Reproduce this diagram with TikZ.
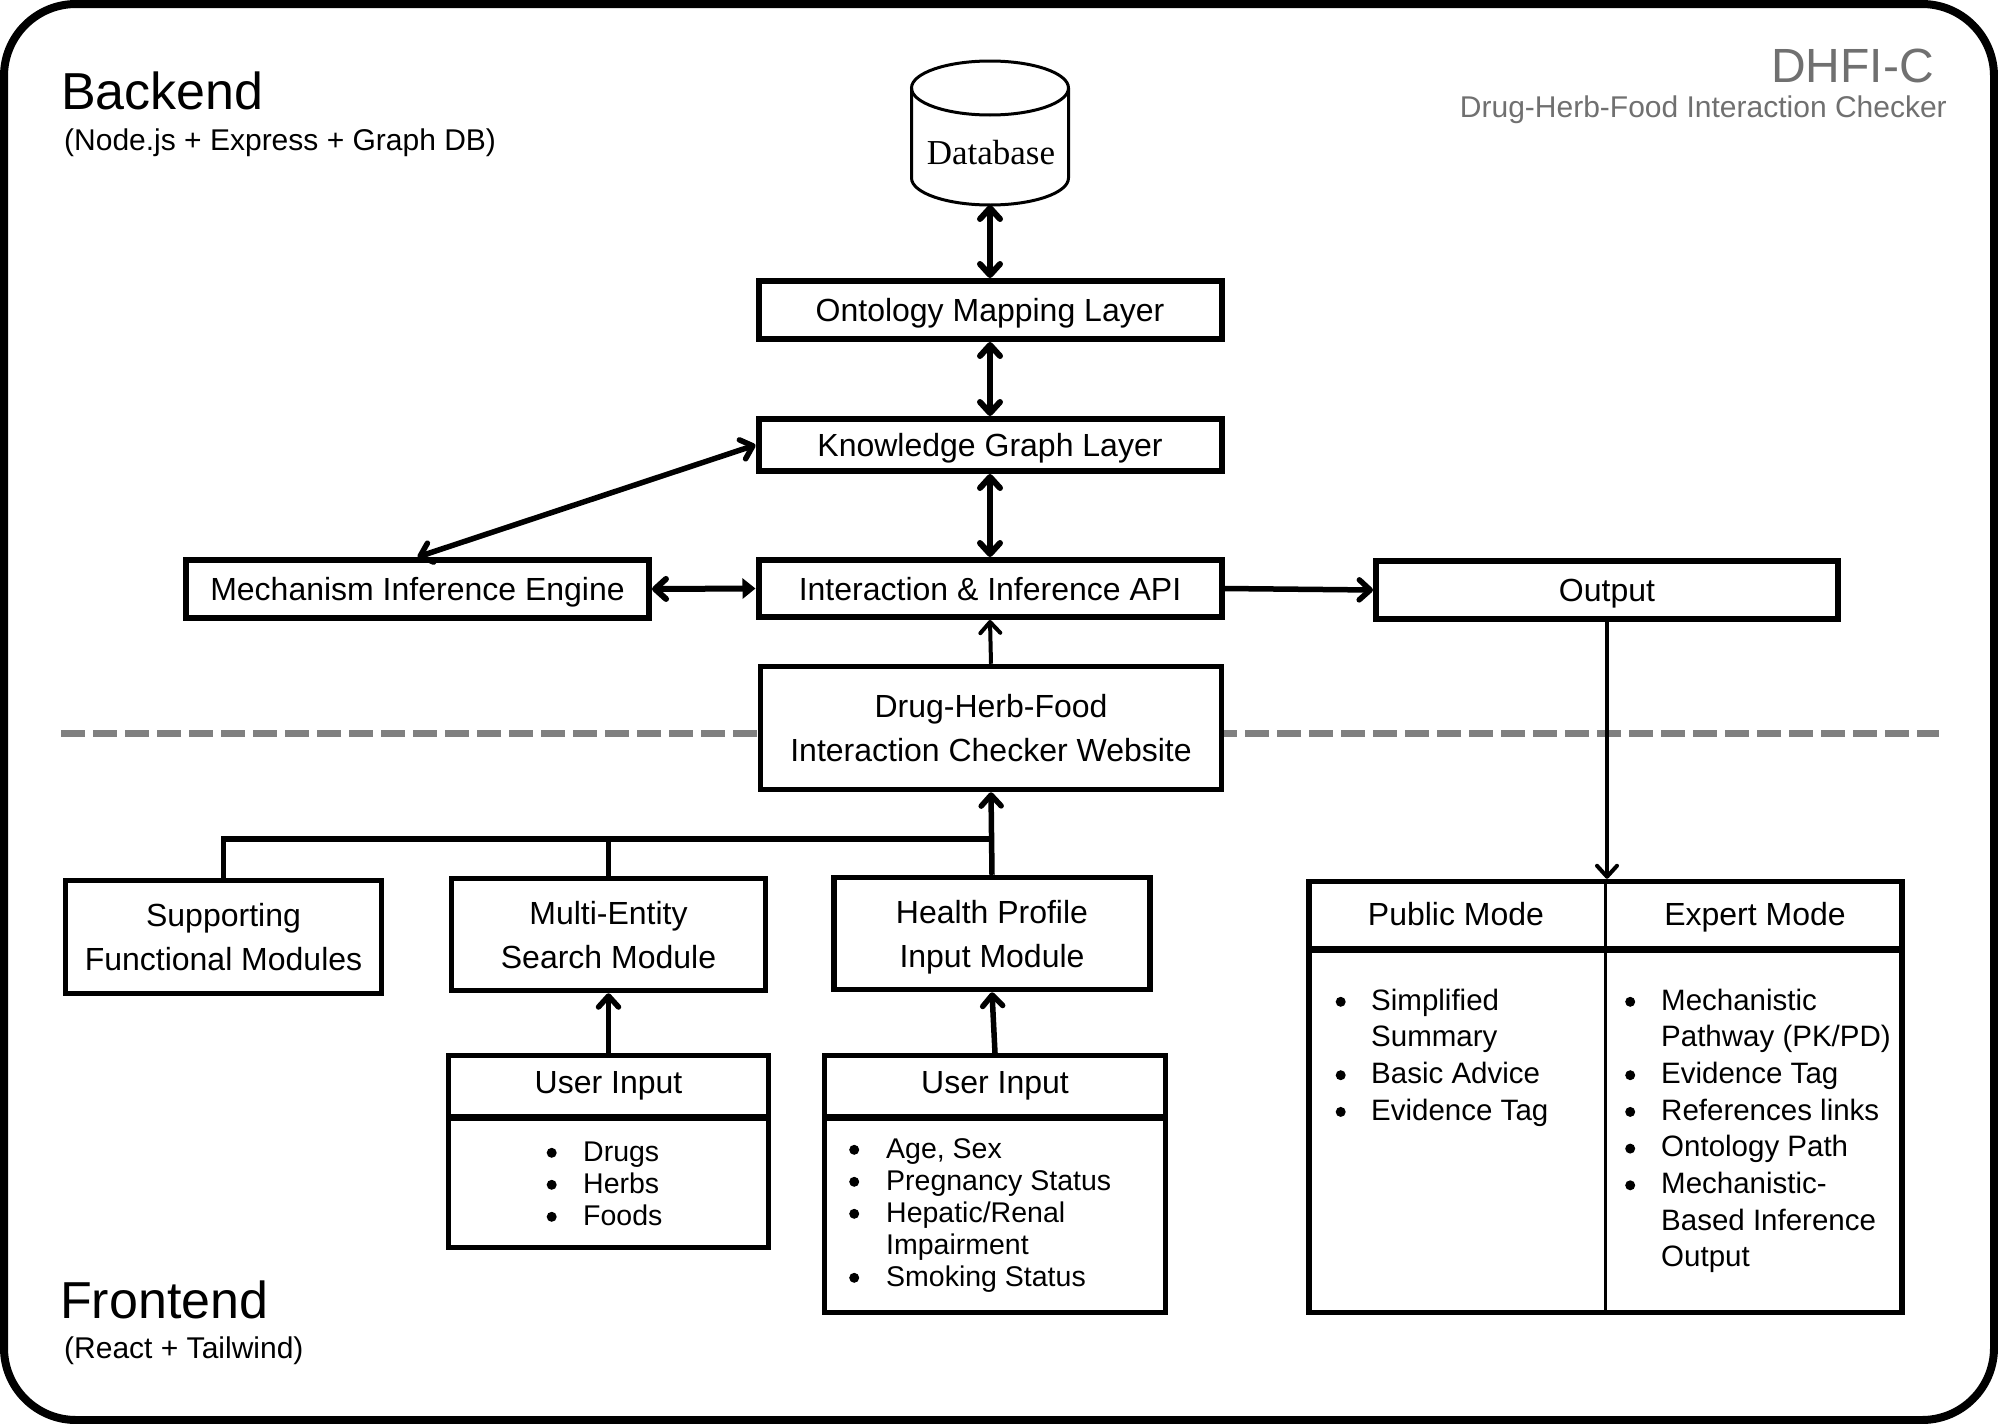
\documentclass[tikz,border=0pt]{standalone}
\usepackage{fontspec}
\setmainfont{Liberation Sans}
\newfontfamily\dbfont{Liberation Serif}
\usetikzlibrary{arrows.meta}
\definecolor{titlegray}{RGB}{112,112,112}
\definecolor{dashgray}{RGB}{128,128,128}
\newcommand\bdot{\raisebox{3.2pt}{\tikz\fill (0,0) circle[radius=5pt];}}
\begin{document}
\begin{tikzpicture}[x=1pt,y=-1pt,
  >={Straight Barb[length=11pt,width=20pt,round]},
  box/.style={draw, line width=6pt, fill=white, inner sep=0pt, font=\fontsize{32}{44}\selectfont},
  onebox/.style={box, text height=23pt, text depth=0pt},
  twobox/.style={box, align=center, text depth=0pt, line width=5.5pt},
  tabbox/.style={box, line width=5pt},
  lnk/.style={line width=6pt},
  midlnk/.style={line width=5.5pt},
  thinlnk/.style={line width=4pt},
  sepline/.style={line width=7pt},
  txt/.style={inner sep=0pt},
  hdr/.style={txt, anchor=base, font=\fontsize{32}{38}\selectfont},
  lst/.style={txt, anchor=base west},
  smalllst/.style={lst, font=\fontsize{28.5}{32}\selectfont},
  biglst/.style={lst, font=\fontsize{29.5}{36.7}\selectfont},
]
\useasboundingbox (0,0) rectangle (1998,1424);
\draw[line width=8pt, rounded corners=72pt] (4,4) rectangle (1994,1420);

% dashed separator
\coordinate (dashL) at (61,733);
\coordinate (dashR) at (1939,733);
\draw[dashgray, line width=7pt, dash pattern=on 24pt off 8pt] (dashL) -- (dashR);

% titles
\node[txt, anchor=base west, font=\fontsize{52}{60}\selectfont] (backend) at (61,109) {Backend};
\node[txt, anchor=base west, font=\fontsize{30}{36}\selectfont] (backsub) at (64,150) {(Node.js + Express + Graph DB)};
\node[txt, anchor=base west, font=\fontsize{52}{60}\selectfont] (frontend) at (60,1318) {Frontend};
\node[txt, anchor=base west, font=\fontsize{30}{36}\selectfont] (frontsub) at (64,1358) {(React + Tailwind)};
\node[txt, anchor=base east, text=titlegray, font=\fontsize{48}{56}\selectfont] (title) at (1934,82) {DHFI-C};
\node[txt, anchor=base east, text=titlegray, font=\fontsize{30}{36}\selectfont] (subtitle) at (1947,117) {Drug-Herb-Food Interaction Checker};

% database cylinder
\node[minimum width=157pt, minimum height=144pt, inner sep=0pt, outer sep=0pt] (db) at (990,133) {};
\fill[white] (911.5,88) -- (911.5,178) arc[start angle=180,end angle=0,x radius=78.5,y radius=27] -- (1068.5,88) arc[start angle=0,end angle=-180,x radius=78.5,y radius=27] -- cycle;
\draw[line width=3pt] (911.5,88) -- (911.5,178) arc[start angle=180,end angle=0,x radius=78.5,y radius=27] -- (1068.5,88);
\draw[line width=3pt] (990,88) ellipse[x radius=78.5,y radius=27];
\node[txt, font=\dbfont\fontsize{35}{40}\selectfont] (dblabel) at (991,153) {Database};

% boxes
\node[onebox, minimum width=463pt, minimum height=58pt] (ont) at (990,310) {Ontology Mapping Layer};
\node[onebox, minimum width=463pt, minimum height=52pt] (kg) at (990,445) {Knowledge Graph Layer};
\node[onebox, minimum width=463pt, minimum height=57pt] (api) at (990,588.5) {Interaction \& Inference API};
\node[onebox, minimum width=463pt, minimum height=58pt] (mech) at (417.5,589) {Mechanism Inference Engine};
\node[onebox, minimum width=462pt, minimum height=58pt] (out) at (1607,590) {Output};
\node[twobox, minimum width=461pt, minimum height=123pt] (web) at (991,728) {Drug-Herb-Food\\Interaction Checker Website};
\node[twobox, minimum width=316pt, minimum height=113pt] (supp) at (223.5,937) {Supporting\\Functional Modules};
\node[twobox, minimum width=314pt, minimum height=112pt] (multi) at (608.5,934.5) {Multi-Entity\\Search Module};
\node[twobox, minimum width=316pt, minimum height=112pt] (health) at (992,933.5) {Health Profile\\Input Module};
\node[tabbox, minimum width=320pt, minimum height=192pt] (uiL) at (608.5,1151.5) {};
\node[tabbox, minimum width=341pt, minimum height=257pt] (uiR) at (995,1184) {};
\node[tabbox, line width=5.5pt, minimum width=593pt, minimum height=431pt] (mode) at (1605.5,1097) {};

% separators inside tables
\coordinate (uiSep) at (0,1117.5);
\draw[sepline] (uiL.west |- uiSep) -- (uiL.east |- uiSep);
\draw[sepline] (uiR.west |- uiSep) -- (uiR.east |- uiSep);
\coordinate (modeSep) at (0,949);
\draw[line width=3pt] (mode.north) -- (mode.south);
\draw[sepline] (mode.west |- modeSep) -- (mode.east |- modeSep);

% headers
\node[hdr] (uiLh) at (608.5,1093) {User Input};
\node[hdr] (uiRh) at (995,1093) {User Input};
\node[hdr] (pubh) at (1456,925) {Public Mode};
\node[hdr] (exph) at (1755,925) {Expert Mode};

% lists
\node[smalllst] (uiLl) at (546.5,1161) {\begin{tabular}[t]{@{}p{36.5pt}@{}l@{}}\bdot&Drugs\\\bdot&Herbs\\\bdot&Foods\end{tabular}};
\node[smalllst] (uiRl) at (849,1158) {\begin{tabular}[t]{@{}p{37pt}@{}l@{}}\bdot&Age, Sex\\\bdot&Pregnancy Status\\\bdot&Hepatic/Renal\\&Impairment\\\bdot&Smoking Status\end{tabular}};
\node[biglst] (publ) at (1335.5,1010) {\begin{tabular}[t]{@{}p{35.5pt}@{}l@{}}\bdot&Simplified\\&Summary\\\bdot&Basic Advice\\\bdot&Evidence Tag\end{tabular}};
\node[biglst] (expl) at (1625,1010) {\begin{tabular}[t]{@{}p{36pt}@{}l@{}}\bdot&Mechanistic\\&Pathway (PK/PD)\\\bdot&Evidence Tag\\\bdot&References links\\\bdot&Ontology Path\\\bdot&Mechanistic-\\&Based Inference\\&Output\end{tabular}};

% connectors
\draw[lnk,<->] (db.south) -- (ont.north);
\draw[lnk,<->] (ont.south) -- (kg.north);
\draw[lnk,<->] (kg.south) -- (api.north);
\draw[midlnk,<->] (mech.north) -- (kg.west);
\draw[lnk,{Straight Barb[length=11pt,width=20pt,round]}-{Triangle[length=13pt,width=20pt]}] (mech.east) -- (api.west);
\draw[midlnk,->] (api.east) -- (out.west);
\draw[thinlnk,->] (web.north) -- (api.south);
\draw[thinlnk,->] (out.south) -- (out.south |- mode.north);
\coordinate (busR) at (992,839);
\draw[midlnk] (supp.north) |- (busR);
\draw[midlnk] (multi.north) -- (multi.north |- busR);
\draw[midlnk,->] (health.north) -- (web.south);
\draw[midlnk,->] (uiL.north) -- (multi.south);
\draw[midlnk,->] (uiR.north) -- (health.south);
\end{tikzpicture}
\end{document}
